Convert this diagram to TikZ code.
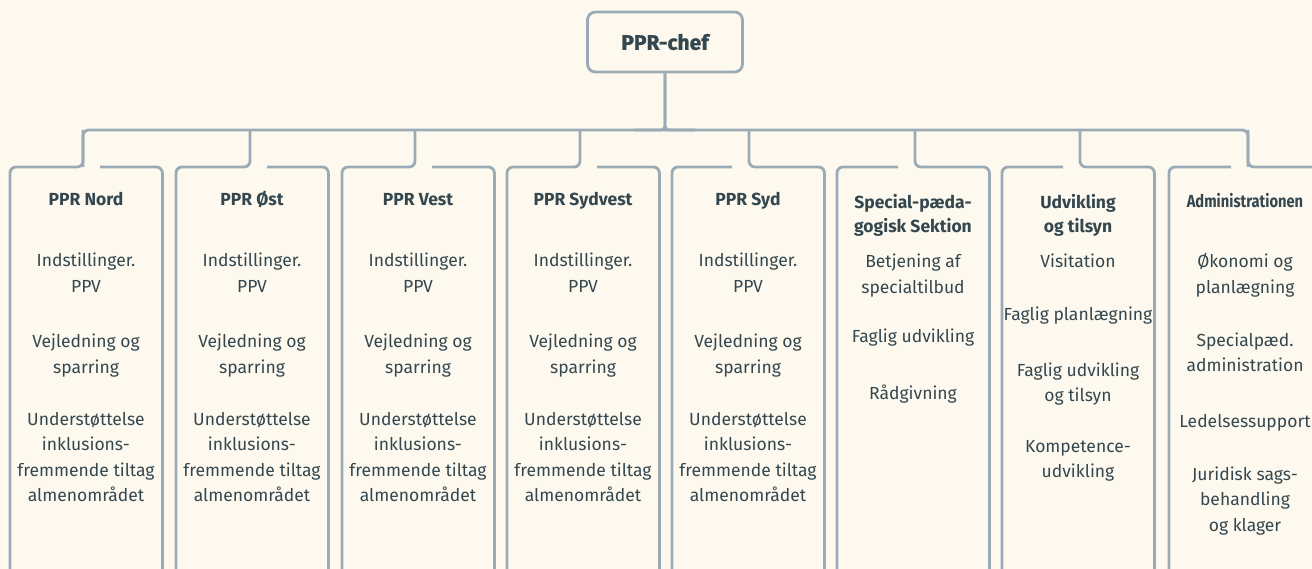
\documentclass[tikz,border=0pt]{standalone}
\usepackage{fontspec}
\setmainfont{Fira Sans}
\newfontfamily\heavyfont[BoldFeatures={FakeBold=1.2}]{Fira Sans}
\definecolor{bg}{HTML}{FDF9EF}
\definecolor{ln}{HTML}{9BABB5}
\definecolor{ink}{HTML}{34474F}
\newcommand{\ml}[1]{\begin{tabular}[t]{@{}c@{}}#1\end{tabular}}
\begin{document}
\begin{tikzpicture}[x=1pt,y=-1pt,
  conn/.style={draw=ln, line width=2.8pt, rounded corners=6pt},
  frame/.style={draw=ln, line width=2.8pt, rounded corners=6pt},
  slot/.style={inner sep=0pt, minimum width=152pt, minimum height=410pt, anchor=north west},
  hd/.style={anchor=base, inner sep=0pt, text=ink, font=\fontsize{17.5}{24}\selectfont\bfseries},
  bd/.style={anchor=base, inner sep=0pt, text=ink, font=\fontsize{17.5}{25.5}\selectfont},
  chefbox/.style={draw=ln, line width=2.8pt, rounded corners=8pt, minimum width=155pt, minimum height=60pt, inner sep=0pt, text=ink, font=\heavyfont\fontsize{21}{24}\selectfont\bfseries}]
\useasboundingbox (0,0) rectangle (1312,569);
\fill[bg] (0,0) rectangle (1312,569);
\clip (0,0) rectangle (1312,569);

% top box
\node[chefbox] (chef) at (665,42) {PPR-chef};
\coordinate (hub) at (665,130);

% box slots
\foreach \i/\l in {1/10,2/176,3/342,4/507,5/672,6/837,7/1002,8/1169}
  \node[slot] (b\i) at (\l,167) {};

% drop points
\foreach \i/\d in {1/83,2/250,3/415,4/580,5/749,6/915,7/1080,8/1248}{
  \coordinate (j\i) at (\d,130);
  \coordinate (t\i) at (\d,167);
}

% bus
\draw[conn] (t1) -- (j1) -- (j8) -- (t8);
\draw[conn, rounded corners=4pt] (chef.south) -- (hub) -- ([xshift=-30pt]hub);
\draw[conn, rounded corners=4pt] (chef.south) -- (hub) -- ([xshift=30pt]hub);

% left boxes: drop turns left
\foreach \i in {1,2,3,4}
  \draw[frame] ([xshift=17pt]t\i) -- (b\i.north east) -- (b\i.south east) -- (b\i.south west) -- (b\i.north west) -- (t\i) -- (j\i);
% right boxes: drop turns right
\foreach \i in {5,6,7,8}
  \draw[frame] ([xshift=-17pt]t\i) -- (b\i.north west) -- (b\i.south west) -- (b\i.south east) -- (b\i.north east) -- (t\i) -- (j\i);

% PPR boxes
\foreach \i/\c/\n in {1/86/PPR Nord,2/252/PPR Øst,3/418/PPR Vest,4/583/PPR Sydvest,5/748/PPR Syd}{
  \node[hd] (h\i) at (\c,206) {\n};
  \node[bd] (p\i) at (\c,267) {\ml{Indstillinger.\\PPV}};
  \node[bd] (v\i) at (\c,348) {\ml{Vejledning og\\sparring}};
  \node[bd] (u\i) at (\c,425) {\ml{Understøttelse\\inklusions-\\fremmende tiltag\\almenområdet}};
}

% Special-paedagogisk Sektion
\node[hd] (h6) at (913,209) {\ml{Special-pæda-\\gogisk Sektion}};
\node[bd] (s61) at (913,268) {\ml{Betjening af\\specialtilbud}};
\node[bd] (s62) at (913,342) {Faglig udvikling};
\node[bd] (s63) at (913,399) {Rådgivning};

% Udvikling og tilsyn
\node[hd] (h7) at (1078,209) {\ml{Udvikling\\og tilsyn}};
\node[bd] (s71) at (1078,268) {Visitation};
\node[bd] (s72) at (1078,320) {Faglig planlægning};
\node[bd] (s73) at (1078,376) {\ml{Faglig udvikling\\og tilsyn}};
\node[bd] (s74) at (1078,452) {\ml{Kompetence-\\udvikling}};

% Administrationen
\node[hd] (h8) at (1245,208) {\scalebox{0.84}[1]{Administrationen}};
\node[bd] (s81) at (1245,268) {\ml{Økonomi og\\planlægning}};
\node[bd] (s82) at (1245,346) {\ml{Specialpæd.\\administration}};
\node[bd] (s83) at (1245,427) {Ledelsessupport};
\node[bd] (s84) at (1245,480) {\ml{Juridisk sags-\\behandling\\og klager}};
\end{tikzpicture}
\end{document}
